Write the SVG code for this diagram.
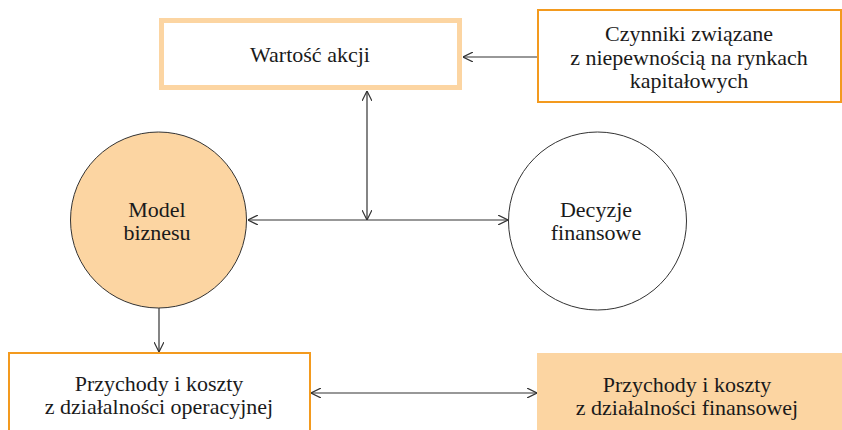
<svg xmlns="http://www.w3.org/2000/svg" width="842" height="430" viewBox="0 0 842 430">
<style>
text{font-family:'Liberation Serif',serif;font-size:22px;fill:#1a1a1a;text-anchor:middle}
.ob{fill:#fff;stroke:#F39A1E;stroke-width:2}
.lb{fill:#fff;stroke:#FCD5A2;stroke-width:5}
.cf{fill:#FCD5A2;stroke:#333;stroke-width:1}
.cw{fill:#fff;stroke:#333;stroke-width:1}
.c{stroke:#333;stroke-width:1.2;fill:none}
</style>
<defs>
<marker id="a" viewBox="0 0 10 10" refX="10" refY="5" markerWidth="10" markerHeight="10" markerUnits="userSpaceOnUse" orient="auto-start-reverse">
<path d="M0,0 L10,5 L0,10" fill="none" stroke="#333" stroke-width="1.2"/>
</marker>
</defs>
<g id="connectors">
<line class="c" x1="537" y1="57" x2="463" y2="57" marker-end="url(#a)"/>
<line class="c" x1="367" y1="91" x2="367" y2="220" marker-start="url(#a)" marker-end="url(#a)"/>
<line class="c" x1="248" y1="220" x2="508" y2="220" marker-start="url(#a)" marker-end="url(#a)"/>
<line class="c" x1="159" y1="308" x2="159" y2="352" marker-end="url(#a)"/>
<line class="c" x1="311" y1="393" x2="537" y2="393" marker-start="url(#a)" marker-end="url(#a)"/>
</g>
<g id="wartosc">
<rect class="lb" x="161.5" y="20.5" width="298" height="67"/>
<text x="310" y="62">Wartość akcji</text>
</g>
<g id="czynniki">
<rect class="ob" x="538" y="10" width="303" height="92"/>
<text x="689" y="41">Czynniki związane</text>
<text x="689" y="65">z niepewnością na rynkach</text>
<text x="689" y="88">kapitałowych</text>
</g>
<g id="model">
<circle class="cf" cx="158.5" cy="220" r="88"/>
<text x="157" y="217">Model</text>
<text x="157" y="240">biznesu</text>
</g>
<g id="decyzje">
<circle class="cw" cx="597.5" cy="221" r="89"/>
<text x="596" y="217">Decyzje</text>
<text x="596" y="240">finansowe</text>
</g>
<g id="operacyjna">
<rect class="ob" x="9" y="353" width="301" height="90"/>
<text x="159" y="391">Przychody i koszty</text>
<text x="159" y="414">z działalności operacyjnej</text>
</g>
<g id="finansowa">
<rect x="537" y="353" width="310" height="80" fill="#FCD5A2"/>
<text x="687" y="392">Przychody i koszty</text>
<text x="687" y="415">z działalności finansowej</text>
</g>
</svg>
